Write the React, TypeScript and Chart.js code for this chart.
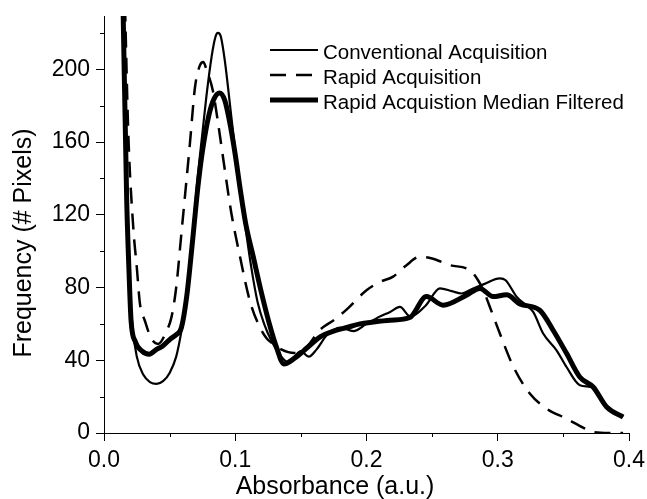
import React, { useEffect, useRef } from "react";
import { Chart, registerables } from "chart.js";

Chart.register(...registerables);

// ---- Data ----
const seriesNames = [
  "Conventional Acquisition",
  "Rapid Acquisition",
  "Rapid Acquistion Median Filtered",
];
const xTitle = "Absorbance (a.u.)";
const yTitle = "Frequency (# Pixels)";

const xTicks = [0, 0.1, 0.2, 0.3, 0.4];
const xMinorTicks = [0.05, 0.15, 0.25, 0.35];
const yTicks = [0, 40, 80, 120, 160, 200];
const yMinorTicks = [20, 60, 100, 140, 180, 220];

const convX = [0.0145, 0.0173, 0.019, 0.0215, 0.025, 0.03, 0.035, 0.0401, 0.045, 0.05, 0.055, 0.059, 0.063, 0.067, 0.071, 0.075, 0.078, 0.082, 0.085, 0.0868, 0.089, 0.092, 0.097, 0.102, 0.107, 0.112, 0.117, 0.122, 0.128, 0.134, 0.14, 0.145, 0.15, 0.156, 0.162, 0.17, 0.18, 0.19, 0.2, 0.21, 0.218, 0.2254, 0.2336, 0.245, 0.256, 0.265, 0.2724, 0.28, 0.29, 0.3016, 0.306, 0.3143, 0.322, 0.327, 0.3346, 0.3448, 0.3524, 0.3626, 0.3727, 0.383, 0.3955];
const convY = [235, 128, 90, 60, 42, 32, 28, 27, 28.5, 33, 42, 56, 75, 105, 138, 165, 185, 207, 218, 220, 218, 205, 174, 143, 117, 92, 72, 60, 50, 43, 39, 42, 45, 42, 46, 54, 58, 56, 60, 64, 66.6, 69.3, 64, 70, 79.5, 78, 76.7, 79, 82, 85, 84, 75, 70, 66.6, 54.7, 45.5, 36.3, 26.3, 25, 14.3, 8.8];

const rapidX = [0.016, 0.0185, 0.0223, 0.025, 0.0274, 0.031, 0.036, 0.0413, 0.047, 0.0515, 0.055, 0.059, 0.0655, 0.0693, 0.073, 0.0757, 0.078, 0.083, 0.087, 0.091, 0.097, 0.1036, 0.111, 0.1175, 0.124, 0.129, 0.135, 0.145, 0.152, 0.165, 0.175, 0.185, 0.2, 0.21, 0.2203, 0.23, 0.2407, 0.25, 0.2635, 0.2788, 0.285, 0.289, 0.294, 0.3016, 0.312, 0.3244, 0.338, 0.3524, 0.365, 0.3727, 0.385, 0.3955];
const rapidY = [235, 165, 113, 91, 71, 62, 52, 49, 55, 64, 80, 110, 159.5, 190, 202, 204, 200, 188, 170, 150, 121, 97, 73, 60, 52, 49, 46, 44, 45.5, 57, 62, 68, 78.5, 83, 86, 92, 96.9, 96, 92.3, 89.5, 84, 78.5, 69.3, 54.7, 36.3, 21.7, 13, 7.9, 3, 0.6, 0, 0];

const medX = [0.0145, 0.0173, 0.019, 0.0206, 0.024, 0.029, 0.0345, 0.04, 0.045, 0.051, 0.055, 0.059, 0.063, 0.066, 0.069, 0.0715, 0.075, 0.08, 0.084, 0.088, 0.092, 0.096, 0.1, 0.104, 0.108, 0.1137, 0.12, 0.126, 0.1315, 0.137, 0.145, 0.155, 0.165, 0.175, 0.185, 0.195, 0.205, 0.218, 0.233, 0.2457, 0.2584, 0.2762, 0.2864, 0.2965, 0.3067, 0.3168, 0.332, 0.3422, 0.3524, 0.3625, 0.3727, 0.383, 0.3955];
const medY = [235, 128, 90, 62, 50, 45, 43.3, 46, 48, 52, 54, 58, 75, 95, 117, 135, 155, 175, 184, 187, 183, 170, 153, 133, 115, 97, 77, 60, 47, 38, 41, 47, 53, 56, 58, 60, 61, 62, 63.5, 75, 70.3, 75.8, 79.5, 75, 76, 71, 67.5, 56.5, 43.8, 30.8, 25.3, 14.3, 8.8];

const FONT = '"Liberation Sans", Arial, Helvetica, sans-serif';

const pts = (xs: number[], ys: number[]) => xs.map((x, i) => ({ x, y: ys[i] }));

const decorPlugin = {
  id: "decor",
  afterDraw(chart: any) {
    const { ctx, chartArea, scales } = chart;
    const xs = scales.x;
    const ys = scales.y;
    ctx.save();
    // minor ticks
    ctx.strokeStyle = "#000";
    ctx.lineWidth = 1;
    ctx.setLineDash([]);
    ctx.beginPath();
    yMinorTicks.forEach((v) => {
      const py = Math.round(ys.getPixelForValue(v)) + 0.5;
      ctx.moveTo(chartArea.left - 4, py);
      ctx.lineTo(chartArea.left, py);
    });
    xMinorTicks.forEach((v) => {
      const px = Math.round(xs.getPixelForValue(v)) + 0.5;
      ctx.moveTo(px, chartArea.bottom);
      ctx.lineTo(px, chartArea.bottom + 4);
    });
    ctx.stroke();

    // axis titles
    ctx.fillStyle = "#000";
    ctx.font = `25px ${FONT}`;
    ctx.textAlign = "center";
    ctx.textBaseline = "alphabetic";
    ctx.fillText(xTitle, 335, 494);
    ctx.save();
    ctx.translate(31, 243);
    ctx.rotate(-Math.PI / 2);
    ctx.fillText(yTitle, 0, 0);
    ctx.restore();

    // legend
    ctx.font = `20.5px ${FONT}`;
    ctx.textAlign = "left";
    chart.data.datasets.forEach((ds: any, i: number) => {
      const y = 50 + i * 25;
      ctx.save();
      ctx.strokeStyle = ds.borderColor;
      ctx.lineWidth = ds.borderWidth;
      ctx.setLineDash(ds.borderDash || []);
      ctx.lineCap = "butt";
      ctx.beginPath();
      ctx.moveTo(270, y);
      ctx.lineTo(318, y);
      ctx.stroke();
      ctx.restore();
      ctx.fillText(ds.label, 323, y + 8.5);
    });
    ctx.restore();
  },
};

export default function App() {
  const ref = useRef<HTMLCanvasElement>(null);
  useEffect(() => {
    if (!ref.current) return;
    const chart = new Chart(ref.current, {
      type: "line",
      data: {
        datasets: [
          {
            label: seriesNames[0],
            data: pts(convX, convY),
            borderColor: "#000",
            borderWidth: 2.2,
            pointRadius: 0,
            fill: false,
            cubicInterpolationMode: "monotone",
          },
          {
            label: seriesNames[1],
            data: pts(rapidX, rapidY),
            borderColor: "#000",
            borderWidth: 2.5,
            borderDash: [16, 10],
            pointRadius: 0,
            fill: false,
            cubicInterpolationMode: "monotone",
          },
          {
            label: seriesNames[2],
            data: pts(medX, medY),
            borderColor: "#000",
            borderWidth: 5,
            pointRadius: 0,
            fill: false,
            cubicInterpolationMode: "monotone",
          },
        ],
      },
      options: {
        animation: false,
        responsive: false,
        devicePixelRatio: 1,
        layout: { padding: { top: 16, right: 18, left: 0, bottom: 0 } },
        plugins: { legend: { display: false }, tooltip: { enabled: false } },
        scales: {
          x: {
            type: "linear",
            min: 0,
            max: 0.4,
            afterBuildTicks: (s: any) => {
              s.ticks = xTicks.map((v) => ({ value: v }));
            },
            afterFit: (s: any) => {
              s.height = 66;
              s.paddingLeft = 0;
              s.paddingRight = 0;
            },
            ticks: {
              color: "#000",
              font: { family: FONT, size: 23 },
              padding: 6,
              maxRotation: 0,
              callback: (v: any) => Number(v).toFixed(1),
            },
            grid: { drawOnChartArea: false, drawTicks: true, tickLength: 8, color: "#000" },
            border: { display: true, color: "#000", width: 1 },
          },
          y: {
            type: "linear",
            min: 0,
            max: 229.3,
            afterBuildTicks: (s: any) => {
              s.ticks = yTicks.map((v) => ({ value: v }));
            },
            afterFit: (s: any) => {
              s.width = 104;
              s.paddingTop = 0;
              s.paddingBottom = 0;
            },
            ticks: {
              color: "#000",
              font: { family: FONT, size: 23 },
              padding: 6,
              callback: (v: any) => String(v),
            },
            grid: { drawOnChartArea: false, drawTicks: true, tickLength: 8, color: "#000" },
            border: { display: true, color: "#000", width: 1 },
          },
        },
      },
      plugins: [decorPlugin],
    });
    return () => chart.destroy();
  }, []);
  return (
    <canvas
      ref={ref}
      width={647}
      height={499}
      style={{ display: "block", position: "fixed", left: 0, top: 0, background: "#fff" }}
    />
  );
}
